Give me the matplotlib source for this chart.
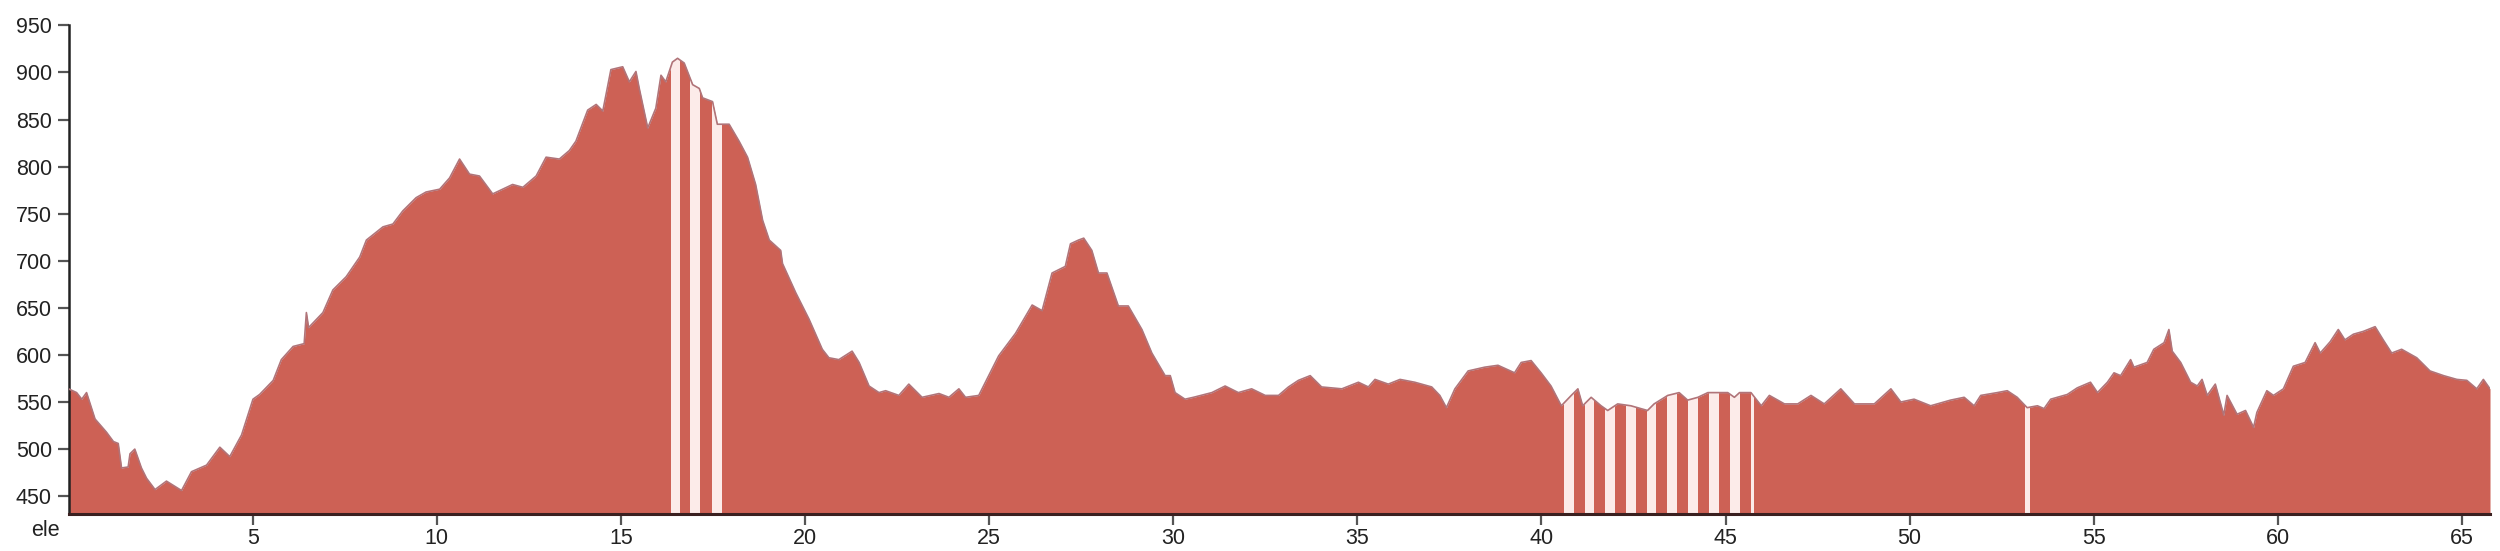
import matplotlib
matplotlib.use("Agg")
import matplotlib.pyplot as plt
import numpy as np

# distance (km) and elevation (m)
km = [0.0, 0.22, 0.36, 0.49, 0.72, 1.03, 1.22, 1.35, 1.44, 1.62, 1.67, 1.80, 1.98, 2.12, 2.35,
      2.66, 3.07, 3.34, 3.75, 4.11, 4.38, 4.70, 5.01, 5.19, 5.56, 5.78, 6.10, 6.40, 6.46, 6.52,
      6.91, 7.18, 7.54, 7.91, 8.09, 8.54, 8.81, 9.08, 9.44, 9.71, 10.08, 10.35, 10.62,
      10.89, 11.16, 11.52, 12.06, 12.34, 12.70, 12.97, 13.33, 13.60, 13.78, 14.10, 14.33, 14.51,
      14.73, 15.05, 15.23, 15.41, 15.50, 15.73, 15.95, 16.09, 16.22, 16.40, 16.54, 16.72, 16.95,
      17.13, 17.22, 17.49, 17.62, 17.94, 18.21, 18.44, 18.66, 18.85, 19.03, 19.34, 19.39, 19.75,
      20.11, 20.47, 20.65, 20.92, 21.28, 21.47, 21.74,
      22.01, 22.19, 22.55, 22.82, 23.18, 23.64, 23.91, 24.18, 24.36, 24.72, 24.99, 25.26, 25.72,
      26.17, 26.44, 26.71, 27.07, 27.21, 27.43, 27.57, 27.79, 27.97, 28.20, 28.51, 28.78, 29.15,
      29.42, 29.78, 29.92, 30.05, 30.32, 30.55, 31.05, 31.41, 31.77, 32.13, 32.50, 32.86,
      33.13, 33.40, 33.72, 34.03, 34.58, 35.03, 35.30, 35.48, 35.84, 36.16, 36.56, 37.02, 37.24,
      37.42, 37.65, 38.01, 38.46, 38.82, 39.27, 39.45, 39.72, 39.99, 40.26, 40.54, 40.81, 40.99,
      41.12, 41.35, 41.62, 41.80, 42.07, 42.43, 42.88, 43.06, 43.43, 43.74, 43.97,
      44.25, 44.52, 45.06, 45.24, 45.38, 45.69, 45.97, 46.19, 46.60, 46.96, 47.32, 47.68, 48.13,
      48.50, 49.04, 49.49, 49.76, 50.12, 50.57, 51.11, 51.48, 51.75, 51.93, 52.38, 52.65, 52.92,
      53.19, 53.47, 53.65, 53.83, 54.28, 54.55, 54.91,
      55.10, 55.37, 55.55, 55.73, 56.00, 56.09, 56.45, 56.63, 56.91, 57.04, 57.13, 57.36, 57.63,
      57.81, 57.94, 58.08, 58.30, 58.53, 58.62, 58.89, 59.12, 59.34, 59.43, 59.70, 59.88, 60.15,
      60.42, 60.74, 61.01, 61.15, 61.42, 61.64, 61.82, 62.05, 62.32, 62.64, 62.86, 63.09, 63.36,
      63.77, 64.13, 64.50, 64.86, 65.13, 65.40, 65.58, 65.76]

ele = [564, 560, 553, 560, 532, 518, 508, 506, 480, 481, 495, 500, 480, 469, 457,
       466, 456, 476, 483, 502, 492, 515, 553, 558, 573, 595, 609, 612, 645, 629,
       645, 669, 683, 704, 722, 736, 739, 753, 767, 773, 776, 788, 808,
       792, 790, 771, 781, 778, 790, 810, 808, 817, 827, 860, 866, 859,
       903, 906, 890, 901, 883, 841, 862, 897, 890, 911, 915, 910, 887,
       883, 873, 869, 845, 845, 827, 810, 781, 743, 722, 711, 697, 666,
       638, 606, 597, 595, 604, 592, 567,
       560, 562, 557, 569, 555, 559, 555, 564, 555, 557, 578, 599, 623,
       653, 647, 687, 694, 718, 722, 724, 711, 687, 687, 652, 652, 627,
       602, 578, 578, 560, 553, 555, 560, 567, 560, 564, 557, 557,
       566, 573, 578, 566, 564, 571, 566, 574, 569, 574, 571, 566, 557,
       544, 564, 583, 587, 589, 581, 592, 594, 581, 567, 546, 557, 564,
       546, 555, 546, 541, 548, 546, 541, 548, 557, 560, 552,
       555, 560, 560, 555, 560, 560, 546, 557, 548, 548, 557, 548, 564,
       548, 548, 564, 550, 553, 546, 552, 555, 546, 557, 560, 562, 555,
       544, 546, 543, 553, 558, 565, 571,
       560, 571, 581, 578, 595, 587, 592, 606, 613, 627, 604, 592, 571,
       567, 574, 557, 569, 536, 557, 537, 541, 523, 539, 562, 557, 564,
       588, 592, 613, 602, 614, 627, 616, 622, 625, 630, 616, 602, 606,
       597, 583, 578, 574, 573, 564, 574, 564]

# data gaps (start km, end km)
gap_start = [16.35, 16.88, 17.47, 40.62, 41.17, 41.73, 42.30, 42.86, 43.42, 43.99, 44.56, 45.12, 45.68, 53.12]
gap_end   = [16.61, 17.15, 17.74, 40.89, 41.43, 42.00, 42.56, 43.12, 43.69, 44.25, 44.82, 45.38, 45.78, 53.26]

y_ticks = [450, 500, 550, 600, 650, 700, 750, 800, 850, 900, 950]
x_ticks = [5, 10, 15, 20, 25, 30, 35, 40, 45, 50, 55, 60, 65]

plt.rcParams['font.family'] = ['Liberation Sans', 'DejaVu Sans']

fig = plt.figure(figsize=(25, 5.51), dpi=100)
ax = fig.add_axes([0.0274, 0.067, 0.9686, 0.887])

ymin = 431
fill = ax.fill_between(km, ele, ymin, color='#cd6155', linewidth=0, zorder=2)
clip_path = fill.get_paths()[0]
for s, e in zip(gap_start, gap_end):
    span = ax.axvspan(s, e, color='#fcebe9', linewidth=0, zorder=3)
    span.set_clip_path(clip_path, ax.transData)
ax.plot(km, ele, color='#b07479', linewidth=1.2, zorder=4)

ax.set_xlim(0, 65.76)
ax.set_ylim(ymin, 950)
ax.set_yticks(y_ticks)
ax.set_xticks(x_ticks)
ax.set_xticklabels([str(t) for t in x_ticks])
ax.set_yticklabels([str(t) for t in y_ticks])

for side in ['top', 'right']:
    ax.spines[side].set_visible(False)
ax.spines['left'].set_color('#222222')
ax.spines['left'].set_linewidth(1.8)
ax.spines['bottom'].set_color('#3a2020')
ax.spines['bottom'].set_linewidth(2.2)
ax.spines['bottom'].set_zorder(5)

ax.tick_params(axis='both', direction='out', length=8, width=1.6, color='#555555',
               labelsize=15.5, labelcolor='#222222')
ax.tick_params(axis='y', pad=4)
ax.tick_params(axis='x', pad=2)

fig.text(45 / 2500, 1 - 530 / 551, 'ele', ha='center', va='center', fontsize=15.5, color='#222222')

fig.savefig('out.png', dpi=100, facecolor='white')
